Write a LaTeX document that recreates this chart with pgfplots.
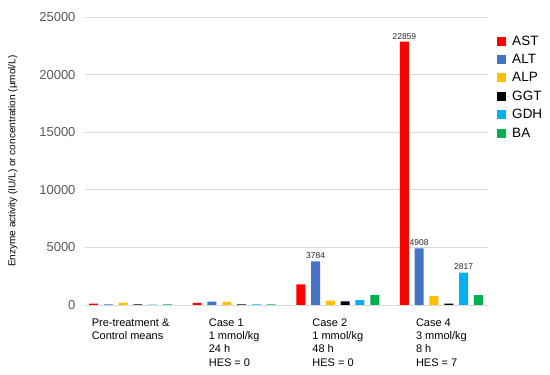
\documentclass[border=0pt]{standalone}
\usepackage{pgfplots}
\pgfplotsset{compat=1.18}
\usepackage{fontspec}
\setmainfont{Liberation Sans}
\definecolor{cAST}{RGB}{255,0,0}
\definecolor{cALT}{RGB}{68,114,196}
\definecolor{cALP}{RGB}{255,192,0}
\definecolor{cGGT}{RGB}{0,0,0}
\definecolor{cGDH}{RGB}{0,176,240}
\definecolor{cBA}{RGB}{0,176,80}
\definecolor{tickgray}{RGB}{89,89,89}
\begin{document}
\begin{tikzpicture}
\useasboundingbox (0pt,0pt) rectangle (550pt,375pt);
\begin{axis}[
  at={(85pt,70pt)}, anchor=south west,
  scale only axis, width=403pt, height=288pt,
  ybar=5.8pt, bar width=9pt,
  xmin=-0.44, xmax=3.45, ymin=0, ymax=25000,
  ytick={0,5000,10000,15000,20000,25000},
  scaled y ticks=false,
  xtick={0,1,2,3},
  xticklabels={{Pre-treatment \&\\Control means},{Case 1\\1 mmol/kg\\24 h\\HES = 0},{Case 2\\1 mmol/kg\\48 h\\HES = 0},{Case 4\\3 mmol/kg\\8 h\\HES = 7}},
  xticklabel style={align=left, anchor=north, font=\fontsize{11}{13.3}\selectfont, text=black, yshift=-10pt},
  yticklabel style={font=\fontsize{13}{15}\selectfont, text=tickgray, xshift=-6pt},
  /pgf/number format/1000 sep={},
  /pgf/number format/assume math mode=true,
  axis line style={draw=none},
  major tick length=0pt,
  ymajorgrids, grid style={color={rgb,255:red,217;green,217;blue,217}, line width=0.8pt},
  ylabel={Enzyme activity (IU/L) or concentration (µmol/L)},
  ylabel style={font=\fontsize{10}{12}\selectfont, at={(axis description cs:-0.179,0.5)}, anchor=center, rotate=0},
  point meta=explicit symbolic,
  nodes near coords,
  every node near coord/.append style={font=\fontsize{8.5}{9}\selectfont, text={rgb,255:red,40;green,40;blue,40}, yshift=-1pt},
  legend style={at={(1.015,0.95)}, anchor=north west, draw=none, fill=none, font=\fontsize{13.5}{15}\selectfont, row sep=3.6pt, legend cell align=left},
  legend image code/.code={\fill[#1] (0pt,-4.5pt) rectangle (9pt,4.5pt); \path (0pt,0pt) -- (13pt,0pt);},
]
\addplot[fill=cAST, draw=none] coordinates {(0,120) [] (1,180) [] (2,1800) [] (3,22859) [22859]};
\addplot[fill=cALT, draw=none] coordinates {(0,60) [] (1,300) [] (2,3784) [3784] (3,4908) [4908]};
\addplot[fill=cALP, draw=none] coordinates {(0,200) [] (1,280) [] (2,380) [] (3,800) []};
\addplot[fill=cGGT, draw=none] coordinates {(0,50) [] (1,60) [] (2,320) [] (3,120) []};
\addplot[fill=cGDH, draw=none] coordinates {(0,40) [] (1,50) [] (2,420) [] (3,2817) [2817]};
\addplot[fill=cBA, draw=none] coordinates {(0,60) [] (1,60) [] (2,880) [] (3,850) []};
\legend{AST,ALT,ALP,GGT,GDH,BA}
\end{axis}
\end{tikzpicture}
\end{document}
